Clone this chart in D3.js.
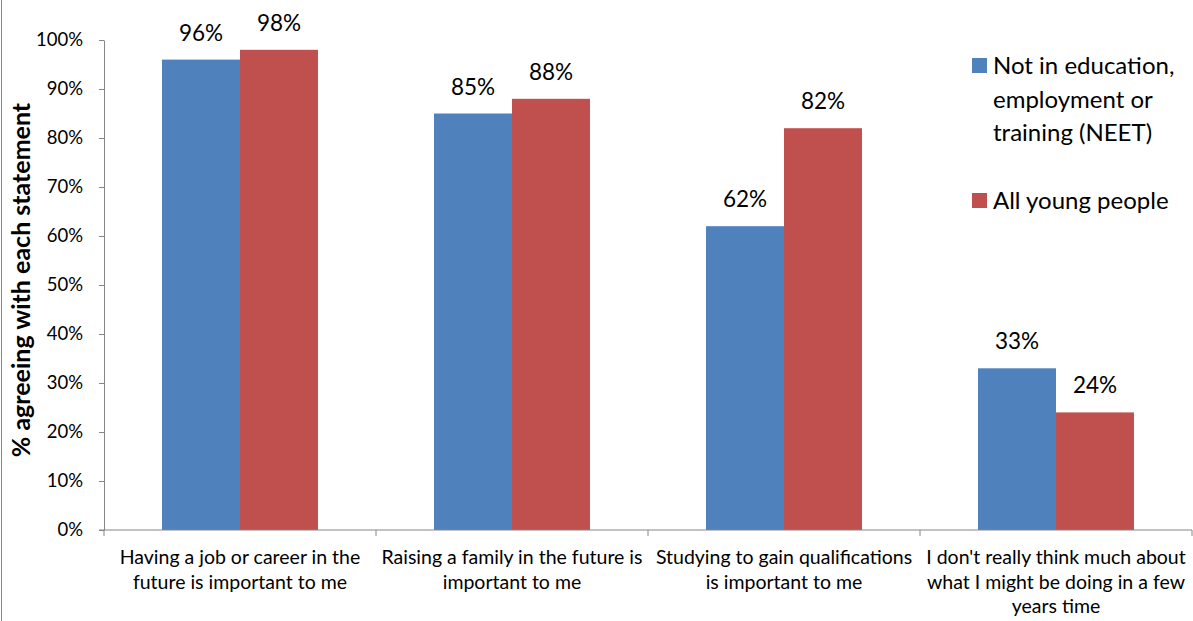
<!DOCTYPE html>
<html>
<head>
<meta charset="utf-8">
<script src="https://cdn.jsdelivr.net/npm/d3@7/dist/d3.min.js"></script>
<style>
  html, body { margin: 0; padding: 0; background: #fff; }
  svg { display: block; font-family: Lato, "Open Sans", sans-serif; }
</style>
</head>
<body>
<svg id="chart" width="1193" height="621"></svg>
<script>
// Survey statements (x categories), one label line per entry
const categories = [
  ["Having a job or career in the", "future is important to me"],
  ["Raising a family in the future is", "important to me"],
  ["Studying to gain qualifications", "is important to me"],
  ["I don't really think much about", "what I might be doing in a few", "years time"]
];
const seriesNames = ["Not in education,\nemployment or\ntraining (NEET)", "All young people"];
const neetValues = [96, 85, 62, 33];
const allYoungValues = [98, 88, 82, 24];
const yTicks = [0, 10, 20, 30, 40, 50, 60, 70, 80, 90, 100];
const colors = ["#4f81bd", "#c0504d"];

const svg = d3.select("#chart");
const margin = { left: 104, top: 40, right: 1192, bottom: 530 };

const x = d3.scaleBand()
  .domain(d3.range(categories.length))
  .range([margin.left, margin.right])
  .paddingInner(0).paddingOuter(0);

const xSeries = d3.scaleBand()
  .domain([0, 1])
  .range([0, x.bandwidth()])
  .paddingOuter(0.744).paddingInner(0);

const y = d3.scaleLinear().domain([0, 100]).range([margin.bottom, margin.top]);

// left frame edge
svg.append("line")
  .attr("x1", 1.5).attr("x2", 1.5).attr("y1", 0).attr("y2", 621)
  .attr("stroke", "#868686").attr("stroke-width", 1);

// bars
const series = [neetValues, allYoungValues];
series.forEach((vals, si) => {
  svg.append("g").selectAll("rect")
    .data(vals)
    .join("rect")
    .attr("x", (d, i) => x(i) + xSeries(si))
    .attr("width", xSeries.bandwidth())
    .attr("y", d => y(d))
    .attr("height", d => y(0) - y(d))
    .attr("fill", colors[si]);

  svg.append("g").selectAll("text")
    .data(vals)
    .join("text")
    .attr("x", (d, i) => x(i) + xSeries(si) + xSeries.bandwidth() / 2)
    .attr("y", d => y(d) - 19)
    .attr("text-anchor", "middle")
    .attr("font-size", 22.5)
    .attr("fill", "#000")
    .text(d => d + "%");
});

// y axis
const yAxis = svg.append("g")
  .attr("transform", `translate(${margin.left},0)`)
  .call(d3.axisLeft(y).tickValues(yTicks).tickSize(5).tickSizeOuter(0).tickFormat(d => d + "%"));
yAxis.select(".domain").attr("stroke", "#868686");
yAxis.selectAll(".tick line").attr("stroke", "#868686");
yAxis.selectAll(".tick text")
  .attr("font-size", 18.5).attr("fill", "#000").attr("font-family", "Lato, sans-serif")
  .attr("x", -21);

// x axis baseline and category separators
const xAxisG = svg.append("g").attr("transform", `translate(0,${margin.bottom})`);
xAxisG.append("line")
  .attr("x1", margin.left - 5).attr("x2", margin.right)
  .attr("stroke", "#868686");
const boundaries = d3.range(categories.length + 1).map(i => i < categories.length ? x(i) : x(i - 1) + x.bandwidth());
xAxisG.selectAll("line.sep")
  .data(boundaries)
  .join("line")
  .attr("class", "sep")
  .attr("x1", d => d).attr("x2", d => d)
  .attr("y1", 0).attr("y2", 6)
  .attr("stroke", "#868686");

// category labels
const catLabels = svg.append("g").selectAll("text")
  .data(categories)
  .join("text")
  .attr("x", (d, i) => x(i) + x.bandwidth() / 2)
  .attr("y", 564)
  .attr("text-anchor", "middle")
  .attr("font-size", 19.5)
  .attr("fill", "#000");
catLabels.selectAll("tspan")
  .data(d => d)
  .join("tspan")
  .attr("x", function () { return d3.select(this.parentNode).attr("x"); })
  .attr("dy", (d, i) => i === 0 ? 0 : 24.5)
  .text(d => d);

// y axis title
svg.append("text")
  .attr("transform", "translate(30,280) rotate(-90)")
  .attr("text-anchor", "middle")
  .attr("font-size", 25)
  .attr("font-weight", "bold")
  .attr("fill", "#000")
  .text("% agreeing with each statement");

// legend
const legendY = [65, 200];
const legend = svg.append("g");
seriesNames.forEach((name, i) => {
  legend.append("rect")
    .attr("x", 972).attr("y", legendY[i] - 7)
    .attr("width", 15).attr("height", 15)
    .attr("fill", colors[i]);
  const t = legend.append("text")
    .attr("x", 993).attr("y", legendY[i] + 9)
    .attr("font-size", 24).attr("fill", "#000");
  name.split("\n").forEach((line, li) => {
    t.append("tspan").attr("x", 993).attr("dy", li === 0 ? 0 : 33.5).text(line);
  });
});
</script>
</body>
</html>
